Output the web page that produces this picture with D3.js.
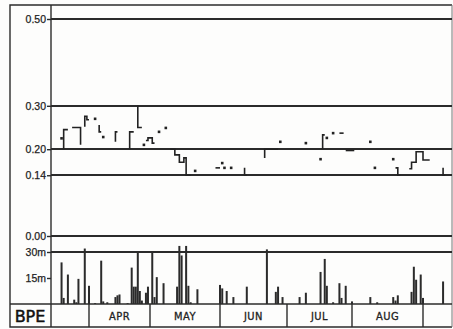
<!DOCTYPE html>
<meta charset="utf-8">
<style>
    html, body {
        margin: 0;
        padding: 0;
        background: #fdfdfc;
    }
    svg {
        display: block;
        font-family: 'DejaVu Sans Condensed', 'DejaVu Sans', sans-serif;
    }
    .grid {
        stroke: #2b2b2b;
        stroke-width: 1.6px;
        shape-rendering: crispEdges;
    }
    .frame {
        stroke: #2b2b2b;
        stroke-width: 1.4px;
        fill: none;
    }
    .stage {
        fill: none;
        stroke: #222;
        stroke-width: 1.6px;
    }
    .tick text {
        font-size: 10.5px;
        fill: #222;
        stroke: #222;
        stroke-width: 0.25px;
    }
</style>
<html>
<head>
    <script src="https://d3js.org/d3.v7.min.js"></script>
</head>
<body>
<div id="chart"></div>
<script>
    // month boundaries and labels for the bottom band
    var monthStarts = ["03-14", "04-01", "05-01", "06-01", "07-01", "08-01", "09-01", "09-14"];
    var monthLabels = ["", "APR", "MAY", "JUN", "JUL", "AUG", ""];

    var stageTicks = [0.50, 0.30, 0.20, 0.14, 0.00];
    var stageTickLabels = ["0.50", "0.30", "0.20", "0.14", "0.00"];
    var rainTicks = [30, 15];
    var rainTickLabels = ["30m", "15m"];

    // stepped record, one array per unbroken piece
    var stageSegments = [
        [["03-20", 0.20], ["03-20", 0.245], ["03-22", 0.245]],
        [["03-24", 0.25], ["03-28", 0.25], ["03-28", 0.21]],
        [["03-30", 0.252], ["03-30", 0.276], ["03-31", 0.268], ["04-01", 0.268]],
        [["04-06", 0.256], ["04-06", 0.24], ["04-07", 0.24]],
        [["04-14", 0.217], ["04-14", 0.24], ["04-15", 0.24]],
        [["04-21", 0.20], ["04-21", 0.24], ["04-23", 0.24]],
        [["04-25", 0.30], ["04-25", 0.25], ["04-27", 0.25]],
        [["04-29", 0.22], ["04-30", 0.22], ["04-30", 0.226], ["05-02", 0.226], ["05-02", 0.214], ["05-03", 0.214]],
        [["05-10", 0.20], ["05-12", 0.20], ["05-12", 0.187], ["05-14", 0.187], ["05-14", 0.17], ["05-16", 0.17],
         ["05-16", 0.18], ["05-17", 0.18], ["05-17", 0.14], ["05-19", 0.14]],
        [["05-30", 0.157], ["06-01", 0.157]],
        [["06-12", 0.157], ["06-12", 0.14], ["06-13", 0.14]],
        [["06-21", 0.18], ["06-21", 0.20], ["06-27", 0.20]],
        [["07-18", 0.20], ["07-18", 0.233], ["07-19", 0.233]],
        [["07-26", 0.237], ["07-28", 0.237]],
        [["07-29", 0.197], ["08-02", 0.197]],
        [["08-20", 0.157], ["08-21", 0.157], ["08-21", 0.14], ["08-22", 0.14]],
        [["08-26", 0.155], ["08-27", 0.155], ["08-27", 0.17], ["08-29", 0.17], ["08-29", 0.194],
         ["09-01", 0.194], ["09-01", 0.175], ["09-04", 0.175]],
        [["09-10", 0.157], ["09-10", 0.14], ["09-11", 0.14]]
    ];
    var stageDots = [
        ["03-19", 0.225], ["04-04", 0.27], ["04-08", 0.228], ["04-28", 0.21], ["05-05", 0.24],
        ["05-08", 0.249], ["05-21", 0.15], ["06-02", 0.168], ["06-03", 0.157], ["06-06", 0.157],
        ["06-28", 0.217], ["07-10", 0.214], ["07-17", 0.177], ["07-20", 0.226], ["07-23", 0.237],
        ["08-09", 0.217], ["08-11", 0.157], ["08-19", 0.177]
    ];

    // daily rainfall bars
    var rainDates = [
        "03-19", "03-20", "03-22", "03-25", "03-26", "03-27", "03-30", "04-01", "04-04", "04-07",
        "04-08", "04-10", "04-14", "04-15", "04-16", "04-20", "04-22", "04-23", "04-24", "04-25",
        "04-26", "04-27", "04-29", "04-30", "05-02", "05-03", "05-04", "05-07", "05-13", "05-14",
        "05-15", "05-17", "05-18", "05-19", "05-22", "06-01", "06-02", "06-04", "06-07", "06-13",
        "06-22", "06-26", "06-27", "06-29", "07-07", "07-10", "07-17", "07-19", "07-20", "07-23",
        "07-26", "07-27", "07-29", "08-01", "08-09", "08-12", "08-19", "08-20", "08-21", "08-27",
        "08-28", "08-29", "08-31", "09-01", "09-10"
    ];
    var rainValues = [
        24, 3.5, 17, 2.5, 1, 14.5, 32, 10.5, 0.5, 25,
        1.5, 1, 4, 5, 5.5, 0.5, 21, 10, 10, 30,
        7.5, 2, 6.5, 10, 30, 4, 15.5, 12, 10, 33.5,
        28, 33.5, 10.5, 1, 8.5, 11, 9, 7.5, 4, 10,
        31.5, 7, 10, 4, 4, 6.5, 18.5, 26, 10.5, 1,
        12, 3.5, 10.5, 1.5, 4, 1, 4, 2, 5, 7,
        21.5, 14, 17, 3.5, 13
    ];

    var width = 453, height = 329;
    var parseDay = function (s) { return d3.timeParse("%Y-%m-%d")("2019-" + s); };

    var svg = d3.select("#chart").append("svg")
        .attr("width", width).attr("height", height);

    var x = d3.scaleTime()
        .domain(monthStarts.map(parseDay))
        .range([51, 89, 150, 220, 287, 352, 423, 452]);
    var y = d3.scaleLinear().domain([0, 0.5]).range([236, 19]);
    var yRain = d3.scaleLinear().domain([0, 30]).range([304, 252]);

    // outer frame
    svg.append("path").attr("class", "frame")
        .attr("d", "M452,5H10V327H452");
    svg.append("line").attr("class", "frame")
        .attr("x1", 452).attr("x2", 452).attr("y1", 5).attr("y2", 327)
        .style("stroke-width", "1px").style("stroke", "#777");
    svg.append("line").attr("class", "frame")
        .attr("x1", 51).attr("x2", 51).attr("y1", 5).attr("y2", 327);
    svg.append("line").attr("class", "frame")
        .attr("x1", 10).attr("x2", 452).attr("y1", 304).attr("y2", 304);

    // stage axis + grid
    var stageAxis = d3.axisLeft(y)
        .tickValues(stageTicks)
        .tickFormat(function (d, i) { return stageTickLabels[i]; })
        .tickSize(4).tickPadding(1);
    var gStage = svg.append("g").attr("transform", "translate(51,0)").call(stageAxis);
    gStage.select(".domain").remove();
    gStage.selectAll("line").attr("stroke", "#2b2b2b").attr("stroke-width", 1.4);

    svg.selectAll("line.stageGrid").data(stageTicks).enter().append("line")
        .attr("class", "grid")
        .attr("x1", 51).attr("x2", 452)
        .attr("y1", function (d) { return Math.round(y(d)); })
        .attr("y2", function (d) { return Math.round(y(d)); });

    // rain axis + 30m line
    var rainAxis = d3.axisLeft(yRain)
        .tickValues(rainTicks)
        .tickFormat(function (d, i) { return rainTickLabels[i]; })
        .tickSize(4).tickPadding(1);
    var gRain = svg.append("g").attr("transform", "translate(51,0)").call(rainAxis);
    gRain.select(".domain").remove();
    gRain.selectAll("line").attr("stroke", "#2b2b2b").attr("stroke-width", 1.4);

    svg.append("line").attr("class", "grid")
        .attr("x1", 51).attr("x2", 452)
        .attr("y1", Math.round(yRain(30))).attr("y2", Math.round(yRain(30)));

    // stepped record
    var stepLine = d3.line()
        .x(function (d) { return x(parseDay(d[0])); })
        .y(function (d) { return y(d[1]); })
        .curve(d3.curveStepAfter);

    svg.selectAll("path.stage").data(stageSegments).enter().append("path")
        .attr("class", "stage")
        .attr("d", stepLine);

    svg.selectAll("rect.dot").data(stageDots).enter().append("rect")
        .attr("class", "dot")
        .attr("x", function (d) { return x(parseDay(d[0])) - 1.3; })
        .attr("y", function (d) { return y(d[1]) - 1.3; })
        .attr("width", 2.6).attr("height", 2.6)
        .attr("fill", "#222");

    // rain bars
    svg.selectAll("rect.rain").data(rainDates).enter().append("rect")
        .attr("class", "rain")
        .attr("x", function (d) { return x(parseDay(d)) - 1; })
        .attr("y", function (d, i) { return yRain(rainValues[i]); })
        .attr("width", 2)
        .attr("height", function (d, i) { return yRain(0) - yRain(rainValues[i]); })
        .attr("fill", "#2b2b2b");

    // month band
    var monthEdges = monthStarts.slice(1, -1);
    svg.selectAll("line.month").data(monthEdges).enter().append("line")
        .attr("class", "frame")
        .attr("x1", function (d) { return x(parseDay(d)); })
        .attr("x2", function (d) { return x(parseDay(d)); })
        .attr("y1", 304).attr("y2", 327);

    svg.selectAll("text.month").data(monthLabels).enter().append("text")
        .attr("x", function (d, i) {
            return (x(parseDay(monthStarts[i])) + x(parseDay(monthStarts[i + 1]))) / 2;
        })
        .attr("y", 320)
        .attr("text-anchor", "middle")
        .style("font-size", "11px")
        .style("letter-spacing", "0.5px")
        .style("fill", "#222")
        .style("stroke", "#222")
        .style("stroke-width", "0.3px")
        .text(function (d) { return d; });

    svg.append("text")
        .attr("x", 30).attr("y", 322)
        .attr("text-anchor", "middle")
        .style("font-size", "16px")
        .style("font-family", "'DejaVu Sans', sans-serif")
        .style("fill", "#111")
        .style("stroke", "#111")
        .style("stroke-width", "0.5px")
        .text("BPE");
</script>
</body>
</html>
